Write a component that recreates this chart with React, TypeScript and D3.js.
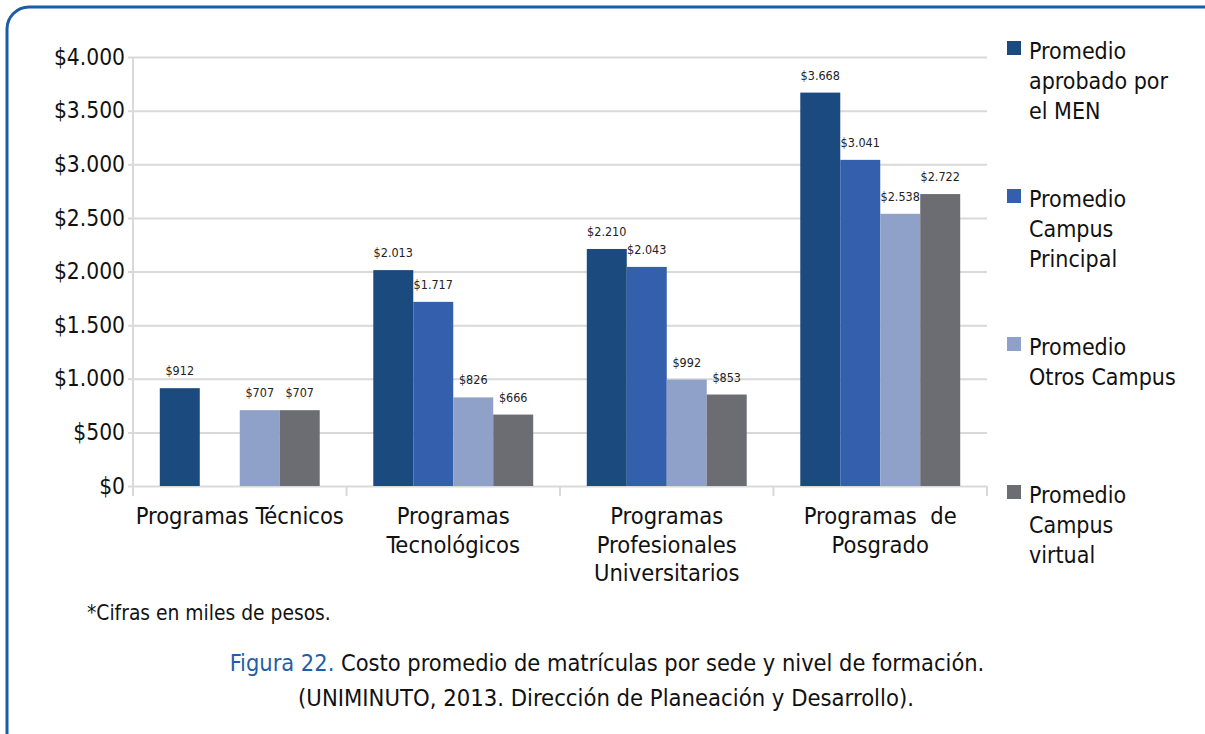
import { useEffect, useRef } from "react";
import * as d3 from "d3";

const categories = [
  ["Programas Técnicos"],
  ["Programas", "Tecnológicos"],
  ["Programas", "Profesionales", "Universitarios"],
  ["Programas  de", "Posgrado"],
];
const series = [
  "Promedio aprobado por el MEN",
  "Promedio Campus Principal",
  "Promedio Otros Campus",
  "Promedio Campus virtual",
];
const legendLines = [
  ["Promedio", "aprobado por", "el MEN"],
  ["Promedio", "Campus", "Principal"],
  ["Promedio", "Otros Campus"],
  ["Promedio", "Campus", "virtual"],
];
// miles de pesos; null = sin dato
const men = [912, 2013, 2210, 3668];
const principal = [null, 1717, 2043, 3041];
const otros = [707, 826, 992, 2538];
const virtual = [707, 666, 853, 2722];
const yTicks = [0, 500, 1000, 1500, 2000, 2500, 3000, 3500, 4000];

const colors = ["#1b4a7e", "#345fad", "#8fa1c8", "#6c6d72"];
const FONT = "'DejaVu Sans Condensed', 'DejaVu Sans', sans-serif";

export default function App() {
  const ref = useRef<SVGSVGElement>(null);

  useEffect(() => {
    const el = ref.current;
    if (!el) return;
    const W = 1205, H = 734;
    const M = { top: 57, bottom: 486, left: 133, right: 987 };

    const svg = d3.select(el);
    svg.selectAll("*").remove();
    svg.attr("viewBox", `0 0 ${W} ${H}`).style("font-family", FONT).style("font-stretch", "condensed");

    // frame
    svg.append("rect")
      .attr("x", 7).attr("y", 7).attr("width", 1230).attr("height", 760)
      .attr("rx", 22).attr("fill", "none")
      .attr("stroke", "#1a5ca8").attr("stroke-width", 3);

    const keys = categories.map((c) => c.join(" "));
    const values = [men, principal, otros, virtual];

    const y = d3.scaleLinear().domain([0, 4000]).range([M.bottom, M.top]);
    const x0 = d3.scaleBand().domain(keys).range([M.left, M.right]).padding(0);
    const x1 = d3.scaleBand().domain(series).range([0, x0.bandwidth()]).paddingInner(0).paddingOuter(0.67);

    // grid + y axis
    svg.append("g")
      .attr("transform", `translate(${M.left},0)`)
      .call(d3.axisLeft(y).tickValues(yTicks).tickSize(-(M.right - M.left)).tickPadding(8)
        .tickFormat((v) => "$" + d3.format(",")(v as number).replace(/,/g, ".")))
      .call((g) => g.select(".domain").remove())
      .call((g) => g.selectAll(".tick line").attr("stroke", "#d9d9d9").attr("stroke-width", 2).attr("x1", -5))
      .call((g) => g.selectAll(".tick text").attr("fill", "#111").style("font-size", "22.6px").style("font-family", FONT));

    svg.append("line")
      .attr("x1", M.left).attr("x2", M.left).attr("y1", M.top).attr("y2", M.bottom + 10)
      .attr("stroke", "#d9d9d9").attr("stroke-width", 2);

    // category separators
    svg.append("g").selectAll("line")
      .data(keys)
      .join("line")
      .attr("x1", (d) => (x0(d) as number) + x0.step())
      .attr("x2", (d) => (x0(d) as number) + x0.step())
      .attr("y1", M.bottom).attr("y2", M.bottom + 10)
      .attr("stroke", "#d9d9d9").attr("stroke-width", 2);

    // bars + labels
    const fmt = (v: number) => "$" + d3.format(",")(v).replace(/,/g, ".");
    series.forEach((s, si) => {
      const pts = keys.map((k, ci) => ({ k, v: values[si][ci] })).filter((d) => d.v != null) as { k: string; v: number }[];
      const g = svg.append("g");
      g.selectAll("rect").data(pts).join("rect")
        .attr("x", (d) => (x0(d.k) as number) + (x1(s) as number))
        .attr("width", x1.bandwidth())
        .attr("y", (d) => y(d.v))
        .attr("height", (d) => M.bottom - y(d.v))
        .attr("fill", colors[si]);
      g.selectAll("text").data(pts).join("text")
        .attr("x", (d) => (x0(d.k) as number) + (x1(s) as number) + x1.bandwidth() / 2)
        .attr("y", (d) => y(d.v) - 13)
        .attr("text-anchor", "middle")
        .attr("fill", "#222").style("font-size", "12.5px")
        .text((d) => fmt(d.v));
    });

    // category labels
    categories.forEach((lines, ci) => {
      const cx = (x0(keys[ci]) as number) + x0.bandwidth() / 2;
      const t = svg.append("text")
        .attr("x", cx).attr("y", 524)
        .attr("text-anchor", "middle")
        .attr("fill", "#111").style("font-size", "23.5px")
        .style("white-space", "pre");
      lines.forEach((l, li) => {
        t.append("tspan").attr("x", cx).attr("dy", li === 0 ? 0 : 28.5).text(l);
      });
    });

    // legend
    legendLines.forEach((lines, i) => {
      const top = 41 + i * 148;
      svg.append("rect").attr("x", 1007).attr("y", top).attr("width", 14).attr("height", 14).attr("fill", colors[i]);
      const t = svg.append("text").attr("x", 1029).attr("y", top + 18).attr("fill", "#111").style("font-size", "23px");
      lines.forEach((l, li) => {
        t.append("tspan").attr("x", 1029).attr("dy", li === 0 ? 0 : 30).text(l);
      });
    });

    // footnote + caption
    svg.append("text").attr("x", 87).attr("y", 620).attr("fill", "#111").style("font-size", "20.8px")
      .text("*Cifras en miles de pesos.");
    const cap = svg.append("text").attr("x", 607).attr("y", 671).attr("text-anchor", "middle")
      .attr("fill", "#111").style("font-size", "23.4px");
    cap.append("tspan").attr("fill", "#1f5fa8").text("Figura 22.");
    cap.append("tspan").text(" Costo promedio de matrículas por sede y nivel de formación.");
    svg.append("text").attr("x", 606).attr("y", 706).attr("text-anchor", "middle")
      .attr("fill", "#111").style("font-size", "23.6px")
      .text("(UNIMINUTO, 2013. Dirección de Planeación y Desarrollo).");
  }, []);

  return (
    <svg
      ref={ref}
      width={1205}
      height={734}
      style={{ position: "absolute", left: 0, top: 0, background: "#fff" }}
    />
  );
}
